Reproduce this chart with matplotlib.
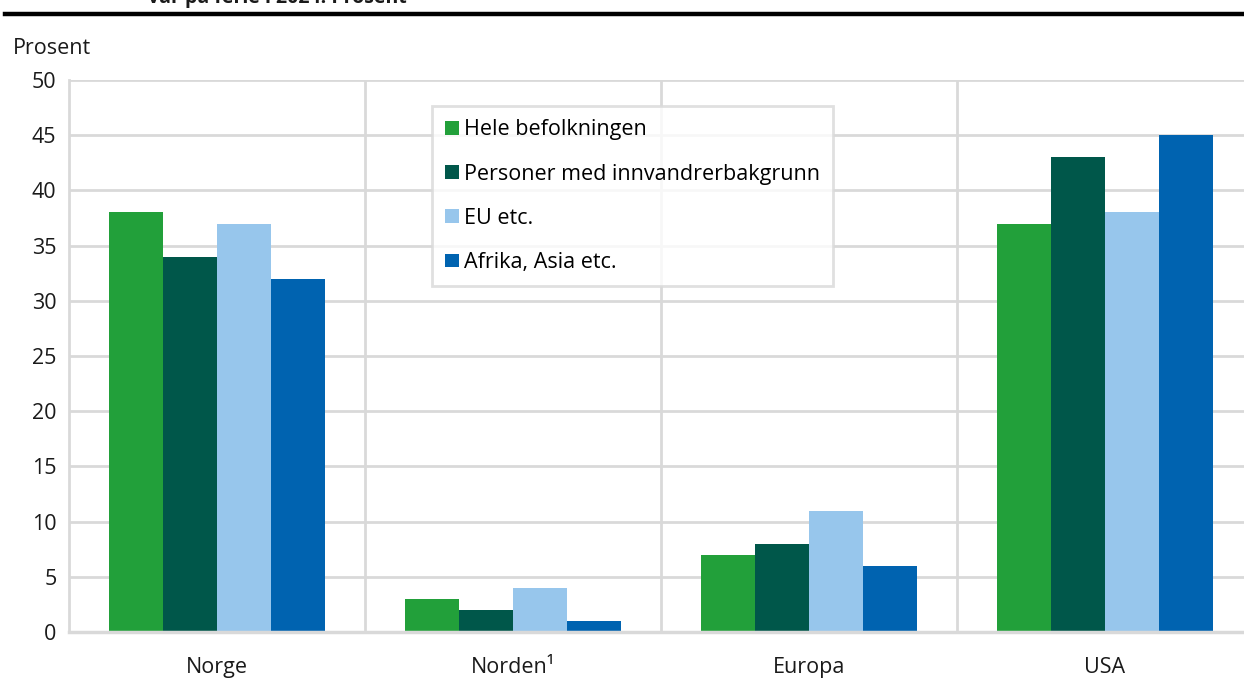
import matplotlib.pyplot as plt
import numpy as np
from matplotlib.patches import Patch

plt.rcParams['font.family'] = ['Open Sans', 'DejaVu Sans']

categories = ['Norge', 'Norden¹', 'Europa', 'USA']
series_names = ['Hele befolkningen', 'Personer med innvandrerbakgrunn', 'EU etc.', 'Afrika, Asia etc.']
hele = [38, 3, 7, 37]
innvandrer = [34, 2, 8, 43]
eu = [37, 4, 11, 38]
afrika = [32, 1, 6, 45]
colors = ['#22a03a', '#00574a', '#97c6ec', '#0063b0']
yticks = [0, 5, 10, 15, 20, 25, 30, 35, 40, 45, 50]

W, H = 1244, 678
fig = plt.figure(figsize=(W / 100, H / 100), dpi=100)

# axes runs past the right edge, as in the original crop
left, right, top, bottom = 69, 1253, 80, 632
ax = fig.add_axes([left / W, 1 - bottom / H, (right - left) / W, (bottom - top) / H])

x = np.arange(len(categories))
bw = 0.1825
for i, (vals, c) in enumerate(zip([hele, innvandrer, eu, afrika], colors)):
    ax.bar(x + (i - 1.5) * bw, vals, bw, color=c, zorder=3, label=series_names[i])

fs = 15.5
ax.set_xlim(-0.5, len(categories) - 0.5)
ax.set_ylim(0, 50)
ax.set_yticks(yticks)
ax.set_yticklabels([str(t) for t in yticks])
ax.set_xticks(x)
ax.set_xticklabels(categories)
ax.tick_params(length=0, labelsize=fs, colors='#1a1a1a')
ax.tick_params(axis='x', pad=18)
ax.tick_params(axis='y', pad=9)

gc = '#d9d9d9'
for t in yticks[1:]:
    ax.axhline(t, color=gc, lw=2, zorder=1)
for b in [0.5, 1.5, 2.5]:
    ax.axvline(b, color=gc, lw=2, zorder=1)
for s in ['top', 'right']:
    ax.spines[s].set_visible(False)
ax.spines['left'].set_color(gc)
ax.spines['left'].set_linewidth(2)
ax.spines['bottom'].set_color(gc)
ax.spines['bottom'].set_linewidth(2.5)
ax.spines['bottom'].set_zorder(4)

handles = [Patch(facecolor=c, edgecolor='none') for c in colors]
leg = ax.legend(handles, series_names, loc='upper left',
                bbox_to_anchor=((432 - left) / (right - left), 1 - (106 - top) / (bottom - top)),
                fontsize=fs, frameon=True, fancybox=False, labelspacing=1.08,
                handlelength=0.62, handleheight=0.62, handletextpad=0.25,
                borderpad=0.62, borderaxespad=0)
leg.get_frame().set_edgecolor(gc)
leg.get_frame().set_linewidth(2)
leg.set_zorder(5)

fig.text(13 / W, 1 - 48 / H, 'Prosent', fontsize=fs, color='#1a1a1a', va='center', ha='left')

# clipped title and rule at the top
fig.text(148 / W, 1 + 3 / H, 'var på ferie i 2024. Prosent', fontsize=14, fontweight='bold',
         color='#1a1a1a', va='center', ha='left')
fig.add_artist(plt.Line2D([5 / W, 1], [1 - 14 / H, 1 - 14 / H], color='black', lw=3.2))

fig.savefig('out.png', dpi=100)
